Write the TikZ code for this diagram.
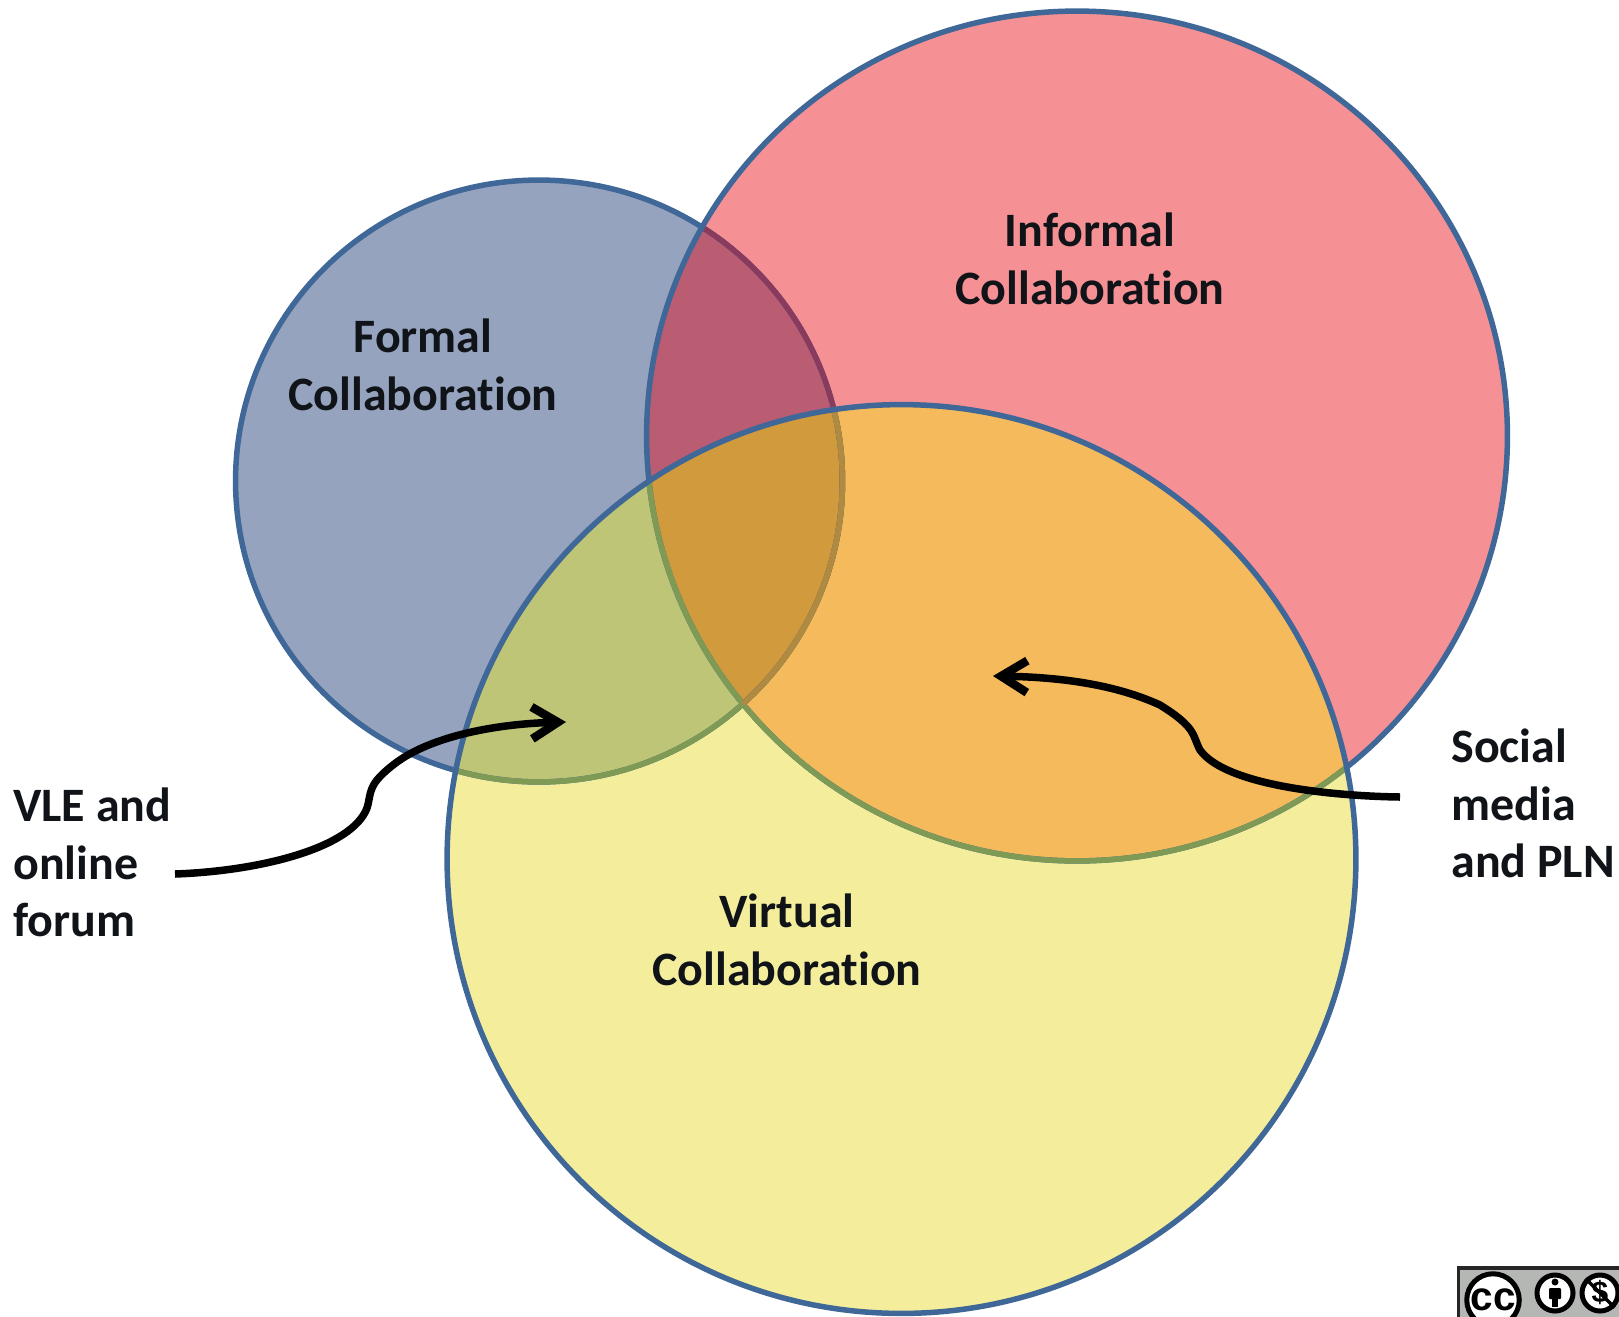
\documentclass[tikz,border=0pt]{standalone}
\usepackage{fontspec}
\setmainfont[Ligatures=CommonOff]{Carlito}
\newfontfamily\badgefont{Liberation Sans}
\usetikzlibrary{arrows.meta}
\definecolor{fF}{HTML}{95A3BF}
\definecolor{fI}{HTML}{F59195}
\definecolor{fV}{HTML}{F4EE9C}
\definecolor{fFI}{HTML}{BA5D73}
\definecolor{fFV}{HTML}{BEC576}
\definecolor{fIV}{HTML}{F4BA5C}
\definecolor{fFIV}{HTML}{D09A3D}
\definecolor{ringblue}{HTML}{3F6797}
\definecolor{ringred}{HTML}{8A3A5C}
\definecolor{ringgreen}{HTML}{7F9A55}
\definecolor{ringbrown}{HTML}{B08A40}
\definecolor{inktext}{HTML}{101418}
\definecolor{badgegrey}{HTML}{B4B7B3}
\newcommand{\cirF}{(539,481) ellipse [x radius=6.07cm, y radius=6.02cm]}
\newcommand{\cirI}{(1077,436) ellipse [x radius=8.61cm, y radius=8.50cm]}
\newcommand{\cirV}{(901.5,859) circle [radius=9.09cm]}
\tikzset{
  x=0.02cm, y=-0.02cm,
  ring/.style={line width=0.11cm},
  label/.style={font=\fontsize{27.3}{33}\selectfont\bfseries, text=inktext, inner sep=0pt},
  sidelabel/.style={label, align=left, anchor=north west},
  midlabel/.style={label, align=center},
  curvearrow/.style={line width=0.15cm, black, -{Straight Barb[length=0.52cm,width=0.64cm,line width=0.17cm]}},
  badgering/.style={line width=0.1cm, draw=black, fill=white},
}
\begin{document}
\begin{tikzpicture}
\useasboundingbox (0,0) rectangle (1619,1316);
\clip (0,0) rectangle (1619,1316);
\fill[white] (0,0) rectangle (1619,1316);
% fills
\fill[fF] \cirF;
\fill[fI] \cirI;
\begin{scope}\clip \cirF; \fill[fFI] \cirI; \end{scope}
\fill[fV] \cirV;
\begin{scope}\clip \cirV; \fill[fFV] \cirF; \fill[fIV] \cirI;
  \clip \cirF; \fill[fFIV] \cirI; \end{scope}
% outlines
\draw[ring, ringblue] \cirF;
\begin{scope}\clip \cirI; \draw[ring, ringred] \cirF; \end{scope}
\draw[ring, ringblue] \cirI;
\begin{scope}\clip \cirV; \draw[ring, ringgreen] \cirF; \draw[ring, ringgreen] \cirI;
  \clip \cirI; \draw[ring, ringbrown] \cirF; \end{scope}
\draw[ring, ringblue] \cirV;
% labels
\node[midlabel] (formal) at (423,365) {Formal\\Collaboration};
\node[midlabel] (informal) at (1090,259) {Informal\\Collaboration};
\node[midlabel] (virtual) at (787,940) {Virtual\\Collaboration};
\node[sidelabel] (vle) at (13,787) {VLE and\\online\\forum};
\node[sidelabel] (social) at (1451,728) {Social\\media\\and PLN};
% connectors
\coordinate (vlestart) at (175,874);
\coordinate (vletip) at (566,722);
\coordinate (socstart) at (1400,797);
\coordinate (soctip) at (993,676);
\draw[curvearrow] (vlestart) .. controls (260,871) and (352,848) .. (367,808)
  .. controls (372,792) and (366,785) .. (397,762)
  .. controls (430,738) and (490,724) .. (vletip);
\draw[curvearrow] (socstart) .. controls (1330,796) and (1225,785) .. (1200,750)
  .. controls (1192,735) and (1197,728) .. (1160,705)
  .. controls (1110,682) and (1050,677) .. (soctip);
% licence badge
\fill[black!85] (1457,1266) rectangle (1640,1340);
\fill[badgegrey] (1460,1270) rectangle (1640,1340);
\node[circle, badgering, minimum size=1.05cm, inner sep=0pt, font=\badgefont\bfseries\fontsize{23}{23}\selectfont] (ccmark) at (1493,1300) {cc};
\node[circle, badgering, minimum size=0.72cm, inner sep=0pt] (byring) at (1555,1293) {};
\fill (1555,1282) circle [radius=0.07cm];
\fill[rounded corners=0.02cm] (1549,1288) rectangle (1561,1299);
\fill (1552,1296) rectangle (1558,1307);
\node[circle, badgering, minimum size=0.72cm, inner sep=0pt, font=\badgefont\bfseries\fontsize{17}{17}\selectfont] (ncring) at (1600,1293) {\$};
\draw[line width=0.07cm] (ncring.north west) -- (ncring.south east);
\end{tikzpicture}
\end{document}
